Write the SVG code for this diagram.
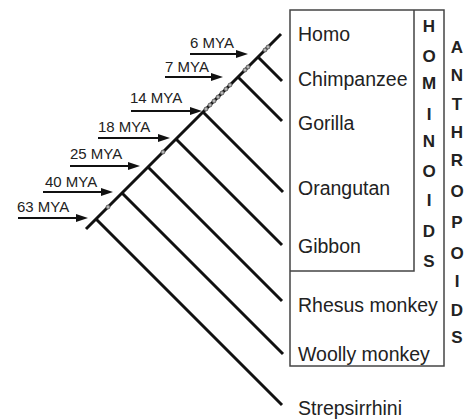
<svg xmlns="http://www.w3.org/2000/svg" width="466" height="419" viewBox="0 0 466 419">
<style>
.br{stroke:#111;stroke-width:3;stroke-linecap:butt;fill:none}
.ar{stroke:#111;stroke-width:2;fill:none}
.mya{font-family:"Liberation Sans",Arial,sans-serif;font-size:15px;fill:#222}
.tx{font-family:"Liberation Sans",Arial,sans-serif;font-size:19.5px;fill:#222}
.lt{font-family:"Liberation Sans",Arial,sans-serif;font-size:17px;font-weight:bold;fill:#222;text-anchor:middle}
.bx{stroke:#444;stroke-width:1.5;fill:none}
.bd{fill:#b5b5b5;stroke:#444;stroke-width:0.7}
</style>
<defs>
<marker id="ah" viewBox="0 0 12 8" refX="6" refY="4" markerWidth="12" markerHeight="8" markerUnits="userSpaceOnUse" orient="auto">
<path d="M0,0 L12,4 L0,8 z" fill="#111"/>
</marker>
</defs>
<rect width="466" height="419" fill="#fff"/>
<g id="connectors">
<line class="br" x1="86" y1="229" x2="281" y2="34"/>
<line class="br" x1="258" y1="57" x2="282" y2="81"/>
<line class="br" x1="238" y1="77" x2="282" y2="121"/>
<line class="br" x1="203" y1="112" x2="283" y2="192"/>
<line class="br" x1="176" y1="139" x2="282" y2="245"/>
<line class="br" x1="148" y1="167" x2="282" y2="301"/>
<line class="br" x1="122" y1="193" x2="283" y2="354"/>
<line class="br" x1="96" y1="219" x2="282" y2="405"/>
<line class="ar" x1="190" y1="54" x2="242" y2="54" marker-end="url(#ah)"/>
<line class="ar" x1="165" y1="77" x2="217" y2="77" marker-end="url(#ah)"/>
<line class="ar" x1="131" y1="111" x2="196" y2="111" marker-end="url(#ah)"/>
<line class="ar" x1="98" y1="138" x2="164" y2="138" marker-end="url(#ah)"/>
<line class="ar" x1="70" y1="166" x2="134" y2="166" marker-end="url(#ah)"/>
<line class="ar" x1="43" y1="192" x2="107" y2="192" marker-end="url(#ah)"/>
<line class="ar" x1="18" y1="218" x2="82" y2="218" marker-end="url(#ah)"/>
</g>
<g id="beads">
<circle class="bd" cx="206" cy="109" r="2"/>
<circle class="bd" cx="210" cy="105" r="2"/>
<circle class="bd" cx="214" cy="101" r="2"/>
<circle class="bd" cx="218" cy="97" r="2"/>
<circle class="bd" cx="222" cy="93" r="2"/>
<circle class="bd" cx="226" cy="89" r="2"/>
<circle class="bd" cx="230" cy="85" r="2"/>
<circle class="bd" cx="245" cy="70" r="2"/>
<circle class="bd" cx="248" cy="67" r="2"/>
<circle class="bd" cx="265" cy="50" r="2"/>
<circle class="bd" cx="268" cy="47" r="2"/>
<circle class="bd" cx="163" cy="152" r="2"/>
<circle class="bd" cx="108" cy="207" r="2"/>
</g>
<g id="mya-labels">
<text class="mya" x="190" y="48">6 MYA</text>
<text class="mya" x="165" y="72">7 MYA</text>
<text class="mya" x="130" y="103">14 MYA</text>
<text class="mya" x="98" y="132">18 MYA</text>
<text class="mya" x="70" y="159">25 MYA</text>
<text class="mya" x="45" y="187">40 MYA</text>
<text class="mya" x="17" y="212">63 MYA</text>
</g>
<g id="anthropoids">
<rect class="bx" x="290" y="10" width="154" height="356"/>
<text class="lt" x="457" y="53">A</text>
<text class="lt" x="457" y="81">N</text>
<text class="lt" x="457" y="110">T</text>
<text class="lt" x="457" y="138">H</text>
<text class="lt" x="457" y="166">R</text>
<text class="lt" x="457" y="197">O</text>
<text class="lt" x="457" y="228">P</text>
<text class="lt" x="457" y="259">O</text>
<text class="lt" x="457" y="287">I</text>
<text class="lt" x="457" y="316">D</text>
<text class="lt" x="457" y="343">S</text>
</g>
<g id="hominoids">
<path class="bx" d="M290,271 H414 V10"/>
<text class="lt" x="429" y="32">H</text>
<text class="lt" x="429" y="62">O</text>
<text class="lt" x="429" y="89">M</text>
<text class="lt" x="429" y="120">I</text>
<text class="lt" x="429" y="147">N</text>
<text class="lt" x="429" y="177">O</text>
<text class="lt" x="429" y="206">I</text>
<text class="lt" x="429" y="237">D</text>
<text class="lt" x="429" y="267">S</text>
</g>
<g id="taxa">
<text id="homo" class="tx" x="298" y="41">Homo</text>
<text id="chimpanzee" class="tx" x="298" y="86">Chimpanzee</text>
<text id="gorilla" class="tx" x="298" y="130">Gorilla</text>
<text id="orangutan" class="tx" x="298" y="195">Orangutan</text>
<text id="gibbon" class="tx" x="298" y="253">Gibbon</text>
<text id="rhesus" class="tx" x="298" y="312">Rhesus monkey</text>
<text id="woolly" class="tx" x="298" y="361">Woolly monkey</text>
<text id="strepsirrhini" class="tx" x="298" y="415">Strepsirrhini</text>
</g>
</svg>
